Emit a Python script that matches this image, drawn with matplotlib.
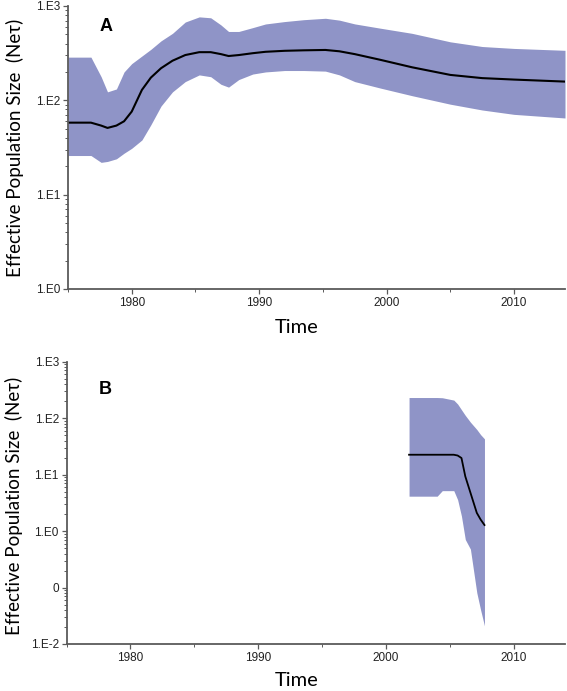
import matplotlib
matplotlib.use("Agg")
import matplotlib.pyplot as plt
from matplotlib.ticker import FixedLocator, LogLocator, MultipleLocator, NullFormatter

# Panel A: skyline summary (median + 95% HPD)
years_a = [1975, 1976.8, 1977.6, 1978.1, 1978.8, 1979.4, 1980.0, 1980.8, 1981.5,
           1982.3, 1983.2, 1984.2, 1985.3, 1986.2, 1987.0, 1987.6, 1988.4, 1989.5,
           1990.5, 1992.0, 1993.5, 1995.2, 1996.3, 1997.5, 1999.5, 2002.0, 2005.0,
           2007.5, 2010.0, 2014.0]
upper_a = [287, 287, 178, 123, 132, 200, 245, 295, 347, 427, 513, 676, 767, 750,
           630, 537, 537, 590, 645, 684, 716, 741, 708, 646, 582, 513, 417, 372,
           355, 339]
median_a = [58, 58, 54, 51, 54, 60, 76, 129, 174, 219, 263, 302, 324, 324, 309,
            295, 302, 316, 327, 335, 339, 342, 331, 309, 269, 224, 186, 172, 166,
            158]
lower_a = [26, 26, 22, 22.5, 24, 27.5, 31, 38, 55, 87, 123, 158, 186, 178, 148,
           138, 166, 190, 200, 207, 207, 204, 186, 158, 135, 112, 91, 79, 71, 65]

# Panel B
years_b = [2001.8, 2004.0, 2004.4, 2005.3, 2005.6, 2005.9, 2006.2, 2006.6, 2007.1,
           2007.4, 2007.7]
upper_b = [232, 232, 230, 209, 178, 141, 112, 85, 63, 51, 43]
median_b = [22.5, 22.5, 22.5, 22.5, 21.8, 19.7, 9.3, 4.8, 2.1, 1.6, 1.28]
lower_b = [4.15, 4.15, 5.2, 5.2, 3.6, 1.84, 0.71, 0.48, 0.081, 0.04, 0.021]

ticks_a = [1, 10, 100, 1000]
labels_a = ["1.E0", "1.E1", "1.E2", "1.E3"]
ticks_b = [0.01, 0.1, 1, 10, 100, 1000]
labels_b = ["1.E-2", "0", "1.E0", "1.E1", "1.E2", "1.E3"]
year_ticks = [1980, 1990, 2000, 2010]

FILL = "#8f94c7"
SPINE = "#5a5a5a"
LABEL_FONT = "Lato"
TICK_FONT = "Liberation Sans"

fig = plt.figure(figsize=(5.67, 6.91), dpi=100)
ax_a = fig.add_axes([68 / 567, 1 - 289 / 691, (565 - 68) / 567, (289 - 6) / 691])
ax_b = fig.add_axes([66.5 / 567, 1 - 644 / 691, (565 - 66.5) / 567, (644 - 361.7) / 691])


def style_axis(ax, ticks, labels, ylim):
    ax.set_yscale("log")
    ax.set_xlim(1975, 2014)
    ax.set_ylim(*ylim)
    for side in ("top", "right"):
        ax.spines[side].set_visible(False)
    for side in ("left", "bottom"):
        ax.spines[side].set_color(SPINE)
        ax.spines[side].set_linewidth(1.3)
    ax.yaxis.set_major_locator(FixedLocator(ticks))
    ax.set_yticklabels(labels)
    ax.yaxis.set_minor_locator(LogLocator(base=10, subs=range(2, 10)))
    ax.yaxis.set_minor_formatter(NullFormatter())
    ax.set_xticks(year_ticks)
    ax.xaxis.set_minor_locator(MultipleLocator(5))
    ax.tick_params(which="major", length=3.5, width=0.9, color=SPINE,
                   labelsize=8.5, pad=2)
    ax.tick_params(which="minor", length=2, width=0.7, color=SPINE)
    for t in ax.get_xticklabels() + ax.get_yticklabels():
        t.set_fontfamily(TICK_FONT)
        t.set_color("#222222")


ax_a.fill_between(years_a, lower_a, upper_a, color=FILL, linewidth=0)
ax_a.plot(years_a, median_a, color="black", lw=1.5)
style_axis(ax_a, ticks_a, labels_a, (1, 1000))
ax_a.text(1977.5, 10 ** (3 - 21 / 94.4), "A", fontsize=13, fontweight="bold",
          family="Liberation Sans", va="center")

ax_b.fill_between(years_b, lower_b, upper_b, color=FILL, linewidth=0)
ax_b.plot(years_b, median_b, color="black", lw=1.3)
style_axis(ax_b, ticks_b, labels_b, (0.01, 1000))
ax_b.text(1977.5, 10 ** (3 - 28 / 56.7), "B", fontsize=13, fontweight="bold",
          family="Liberation Sans", va="center")

ylab = "Effective Population Size  (Ne\u03c4)"
fig.text(15 / 567, 1 - 147.5 / 691, ylab, rotation=90, ha="center", va="center",
         fontsize=13.5, family=[LABEL_FONT, "DejaVu Sans"])
fig.text(14 / 567, 1 - 506 / 691, ylab, rotation=90, ha="center", va="center",
         fontsize=13.5, family=[LABEL_FONT, "DejaVu Sans"])
fig.text(297 / 567, 1 - 327 / 691, "Time", ha="center", va="center",
         fontsize=14.5, family=LABEL_FONT)
fig.text(297 / 567, 1 - 680 / 691, "Time", ha="center", va="center",
         fontsize=14.5, family=LABEL_FONT)

fig.savefig("out.png", dpi=100)
